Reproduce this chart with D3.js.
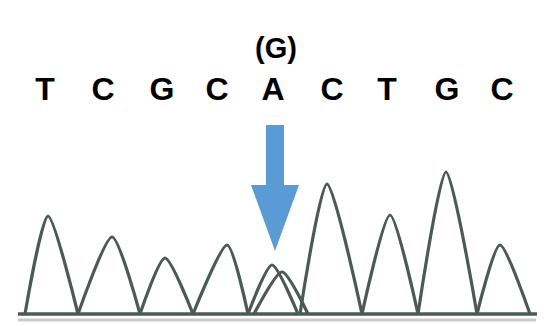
<!DOCTYPE html>
<html>
<head>
<meta charset="utf-8">
<script src="https://cdn.jsdelivr.net/npm/d3@7"></script>
<style>
  body { margin: 0; background: #fff; }
  svg { display: block; }
</style>
</head>
<body>
<svg id="chart" width="553" height="326"></svg>
<script>
// called bases and where they sit along the trace (scan units)
const bases = ["T", "C", "G", "C", "A", "C", "T", "G", "C"];
const basePos = [27, 85, 144, 199, 255, 314, 369, 429, 484];
const altBase = "(G)";
const altIndex = 4;

// main trace peaks: left foot, apex, right foot (scan) and apex intensity
const peakStart = [7, 60, 122, 175, 230, 282, 344, 400, 459];
const peakApex = [30, 94, 147, 209, 254, 309, 372, 428, 482];
const peakEnd = [60, 122, 175, 230, 280, 344, 400, 459, 512];
const peakHeight = [980, 770, 560, 690, 490, 1300, 990, 1420, 690];

// the second (G) peak hidden under the A position
const altPeak = { start: 236, apex: 264, end: 290, height: 420 };

const svg = d3.select("#chart");

const x = d3.scaleLinear().domain([0, 520]).range([18, 538]);
const y = d3.scaleLinear().domain([0, 1500]).range([314, 164]);

const traceColor = "#4b5a55";

// faint scan band under the baseline
svg.append("line")
  .attr("x1", x(0)).attr("x2", x(518))
  .attr("y1", y(0) + 6).attr("y2", y(0) + 6)
  .attr("stroke", "#c9cbca").attr("stroke-width", 3);

// baseline
svg.append("line")
  .attr("x1", x(0)).attr("x2", x(519))
  .attr("y1", y(0)).attr("y2", y(0))
  .attr("stroke", traceColor).attr("stroke-width", 3.5);

const peakLine = d3.line()
  .x(d => x(d[0]))
  .y(d => y(d[1]))
  .curve(d3.curveCardinal.tension(0.3));

const peaks = bases.map((b, i) => [
  [peakStart[i], 0], [peakApex[i], peakHeight[i]], [peakEnd[i], 0]
]);
peaks.push([[altPeak.start, 0], [altPeak.apex, altPeak.height], [altPeak.end, 0]]);

svg.append("g")
  .selectAll("path")
  .data(peaks)
  .join("path")
  .attr("d", peakLine)
  .attr("fill", "none")
  .attr("stroke", traceColor)
  .attr("stroke-width", 3.2)
  .attr("stroke-linejoin", "round");

// base calls
svg.append("g")
  .selectAll("text")
  .data(bases)
  .join("text")
  .attr("x", (d, i) => x(basePos[i]))
  .attr("y", 100)
  .attr("text-anchor", "middle")
  .attr("font-family", "Liberation Sans, Arial, sans-serif")
  .attr("font-weight", "bold")
  .attr("font-size", 32)
  .attr("fill", "#000")
  .text(d => d);

svg.append("text")
  .attr("x", x(basePos[altIndex]) + 3)
  .attr("y", 58)
  .attr("text-anchor", "middle")
  .attr("font-family", "Liberation Sans, Arial, sans-serif")
  .attr("font-weight", "bold")
  .attr("font-size", 29)
  .attr("fill", "#000")
  .text(altBase);

// arrow pointing at the mixed peak
const ax = x(basePos[altIndex]) + 2;
const arrow = d3.path();
arrow.moveTo(ax - 9, 125);
arrow.lineTo(ax + 9, 125);
arrow.lineTo(ax + 9, 185);
arrow.lineTo(ax + 24, 185);
arrow.lineTo(ax, 251);
arrow.lineTo(ax - 24, 185);
arrow.lineTo(ax - 9, 185);
arrow.closePath();
svg.append("path")
  .attr("d", arrow.toString())
  .attr("fill", "#5b9bd5");
</script>
</body>
</html>
